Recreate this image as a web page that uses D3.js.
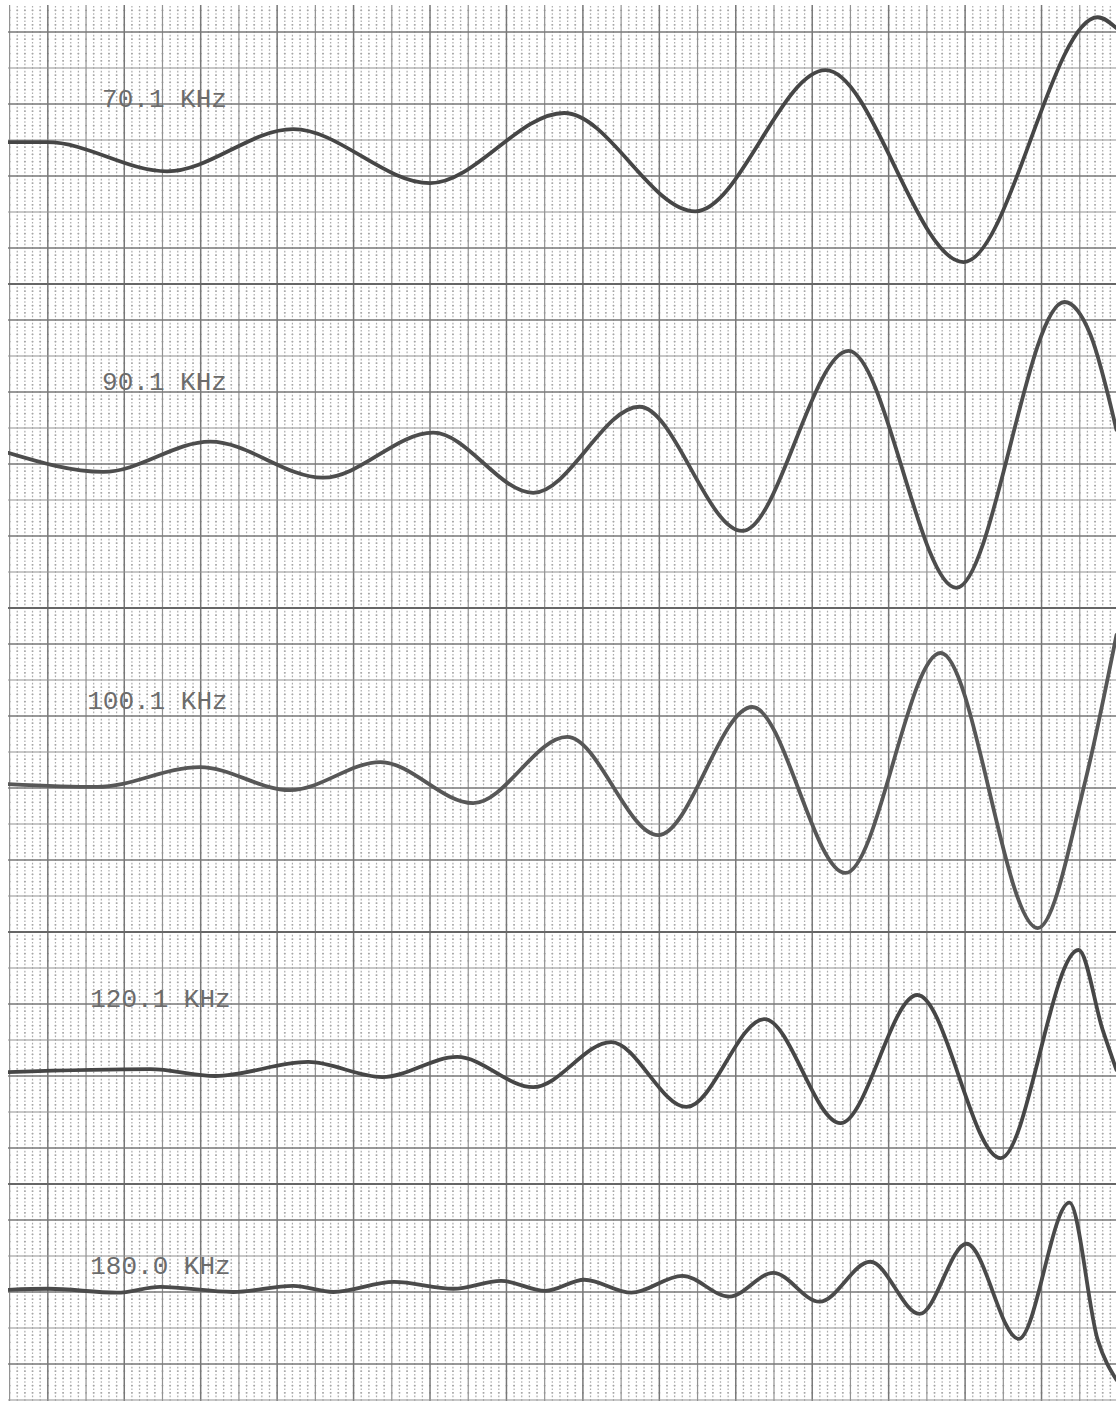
<!DOCTYPE html>
<html>
<head>
<meta charset="utf-8">
<script src="https://cdn.jsdelivr.net/npm/d3@7/dist/d3.min.js"></script>
<style>
  body { margin: 0; background: #fff; }
  svg { display: block; }
</style>
</head>
<body>
<div id="chart"></div>
<script>
// Chart-recorder strips, five frequencies. Units are paper divisions:
// t = horizontal divisions, v = vertical deflection (divisions, up is +)

const labels = ['70.1 KHz', '90.1 KHz', '100.1 KHz', '120.1 KHz', '180.0 KHz'];

// resting level of each pen, in divisions down from the first heavy line
const baselines = [3.06, 11.69, 20.89, 28.89, 34.94];

const t70 = [-0.04, 0.98, 4.12, 7.42, 11.0, 14.51, 17.94, 21.35, 24.96, 28.47, 28.96];
const v70 = [0, 0, -0.81, 0.36, -1.14, 0.81, -1.92, 2.0, -3.33, 3.47, 3.17];

const t90 = [-0.04, 2.45, 5.25, 8.2, 11.08, 13.7, 16.48, 19.17, 21.95, 24.77, 27.6, 28.28, 28.96];
const v90 = [0, -0.53, 0.31, -0.69, 0.56, -1.11, 1.28, -2.17, 2.83, -3.75, 4.19, 3.28, 0.64];

const t100 = [-0.04, 2.29, 4.98, 7.34, 9.7, 12.13, 14.59, 16.97, 19.43, 21.87, 24.36, 26.9, 28.15, 28.96];
const v100 = [0, -0.08, 0.47, -0.17, 0.61, -0.53, 1.31, -1.42, 2.14, -2.47, 3.64, -4.0, 0.11, 4.14];

const t120 = [-0.04, 3.68, 5.38, 7.81, 9.75, 11.71, 13.7, 15.74, 17.71, 19.75, 21.74, 23.75, 25.93, 27.97, 28.6, 28.96];
const v120 = [0, 0.08, -0.11, 0.28, -0.14, 0.42, -0.42, 0.83, -0.97, 1.47, -1.42, 2.14, -2.39, 3.39, 1.17, 0.06];

const t180 = [-0.04, 1.01, 2.81, 3.94, 5.85, 7.42, 8.47, 10.06, 11.61, 12.86, 14.02, 15.04, 16.27,
              17.6, 18.83, 19.98, 21.19, 22.52, 23.81, 25.04, 26.4, 27.73, 28.47, 28.96];
const v180 = [0, 0.03, -0.08, 0.08, -0.06, 0.11, -0.06, 0.22, 0.03, 0.25, -0.03, 0.28, -0.08,
              0.39, -0.19, 0.47, -0.33, 0.78, -0.67, 1.28, -1.36, 2.42, -1.39, -2.5];

const seriesT = [t70, t90, t100, t120, t180];
const seriesV = [v70, v90, v100, v120, v180];

// layout / styling
const W = 1116, H = 1401;
const colW = 38.22, rowH = 36;
const x = d3.scaleLinear().domain([0, 29]).range([9.6, 9.6 + 29 * colW]);
const y = d3.scaleLinear().domain([0, 38]).range([32, 32 + 38 * rowH]);
const labelPos = [[2.42, 2.08], [2.42, 9.94], [2.03, 18.81], [2.11, 27.08], [2.11, 34.5]];
const penColors = ['#464646', '#4d4d4d', '#575757', '#464646', '#4a4a4a'];
const seams = [7, 16, 25, 32];

const svg = d3.select('#chart')
    .append('svg')
    .attr('width', W)
    .attr('height', H);

const paperLeft = x(-0.04), paperTop = y(-0.75);

svg.append('defs').append('clipPath')
    .attr('id', 'paper')
    .append('rect')
    .attr('x', paperLeft)
    .attr('y', paperTop)
    .attr('width', W - paperLeft)
    .attr('height', H - paperTop);

svg.append('rect').attr('width', W).attr('height', H).attr('fill', '#fff');

const grid = svg.append('g').attr('clip-path', 'url(#paper)');

// minor dotted rulings (fifths of a division); dots land on the crossings
const minorCols = d3.range(0, 29 * 5 + 3).map(i => i / 5).filter(d => d % 1 !== 0);
const minorRows = d3.range(-4, 38 * 5 + 1).map(i => i / 5).filter(d => Math.abs(d % 1) > 1e-9);
const stepX = colW / 5, stepY = rowH / 5;

grid.selectAll('line.minor-v')
    .data(minorCols)
    .enter().append('line')
    .attr('class', 'minor-v')
    .attr('x1', d => x(d)).attr('x2', d => x(d))
    .attr('y1', y(-1)).attr('y2', H)
    .style('stroke', '#ababab')
    .style('stroke-width', 1.2)
    .style('stroke-dasharray', `1.6,${stepY / 2 - 1.6}`)
    .style('stroke-dashoffset', 0.8);

grid.selectAll('line.minor-h')
    .data(minorRows)
    .enter().append('line')
    .attr('class', 'minor-h')
    .attr('y1', d => y(d)).attr('y2', d => y(d))
    .attr('x1', x(0)).attr('x2', W)
    .style('stroke', '#a6a6a6')
    .style('stroke-width', 1.3)
    .style('stroke-dasharray', `1.8,${stepX - 1.8}`)
    .style('stroke-dashoffset', 0.9);

// division lines
grid.selectAll('line.major-v')
    .data(d3.range(0, 30))
    .enter().append('line')
    .attr('class', 'major-v')
    .attr('x1', d => x(d)).attr('x2', d => x(d))
    .attr('y1', paperTop).attr('y2', H)
    .style('stroke', d => d % 2 === 1 ? '#777' : '#929292')
    .style('stroke-width', d => d % 2 === 1 ? 1.5 : 1.2);

const heavyRow = k => (k <= 16 ? k % 2 === 0 : k % 2 === 1);

grid.selectAll('line.major-h')
    .data(d3.range(0, 39))
    .enter().append('line')
    .attr('class', 'major-h')
    .attr('y1', d => y(d)).attr('y2', d => y(d))
    .attr('x1', paperLeft).attr('x2', W)
    .style('stroke', d => seams.includes(d) ? '#666' : heavyRow(d) ? '#777' : '#929292')
    .style('stroke-width', d => seams.includes(d) ? 1.8 : heavyRow(d) ? 1.5 : 1.2);

// labels
grid.selectAll('text.freq')
    .data(labels)
    .enter().append('text')
    .attr('class', 'freq')
    .attr('x', (d, i) => x(labelPos[i][0]))
    .attr('y', (d, i) => y(labelPos[i][1]))
    .style('font-family', '"Liberation Mono", "DejaVu Sans Mono", monospace')
    .style('font-size', '26px')
    .style('fill', '#6c6c6c')
    .text(d => d);

// pen traces
const line = d3.line()
    .x(d => x(d.t))
    .y(d => y(d.base - d.v))
    .curve(d3.curveMonotoneX);

const traces = seriesT.map((ts, i) => ts.map((t, j) => ({ t: t, v: seriesV[i][j], base: baselines[i] })));

grid.selectAll('path.trace')
    .data(traces)
    .enter().append('path')
    .attr('class', 'trace')
    .attr('d', line)
    .style('fill', 'none')
    .style('stroke', (d, i) => penColors[i])
    .style('stroke-width', 3.8)
    .style('stroke-linecap', 'round')
    .style('stroke-linejoin', 'round');
</script>
</body>
</html>
